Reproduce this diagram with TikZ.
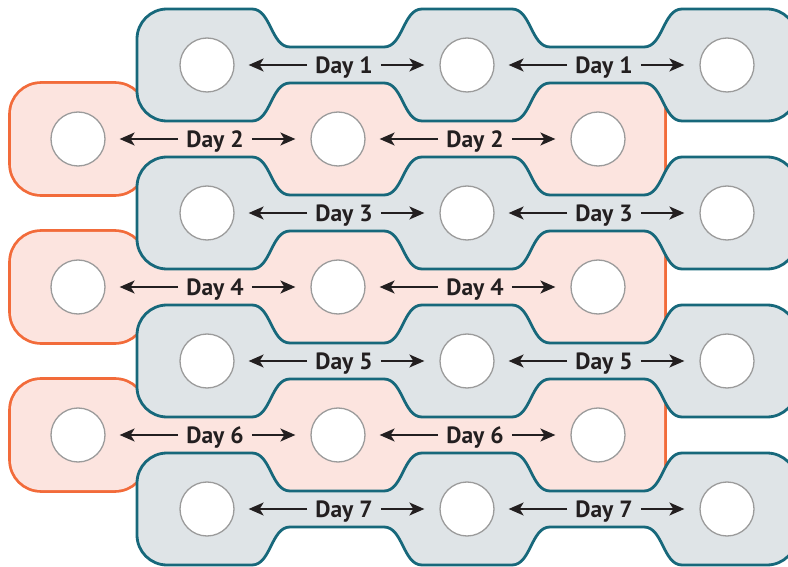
\documentclass[tikz,border=0pt]{standalone}
\usepackage{fontspec}
\setmainfont{PT Sans}
\usetikzlibrary{arrows.meta}
\definecolor{grayfill}{HTML}{DFE4E7}
\definecolor{tealline}{HTML}{17687B}
\definecolor{pinkfill}{HTML}{FCE4DF}
\definecolor{orangeline}{HTML}{F26B3A}
\definecolor{spotline}{HTML}{9B9B9B}
\definecolor{txt}{HTML}{231F20}

% smooth S step: from (#1,#2) by (#3,#4), horizontal at both ends
\newcommand\sstep[4]{.. controls ({#1+0.5*(#3)},{#2}) and ({#1+0.5*(#3)},{#2+(#4)}) .. ({#1+(#3)},{#2+(#4)})}
% gray three-lobed shape: #1 = centre x of left lobe, #2 = centre y
\newcommand\graypath[2]{({#1-70},{#2}) -- ({#1-70},{#2+26}) arc[start angle=180,end angle=90,radius=30]
 -- ({#1+45},{#2+56}) \sstep{#1+45}{#2+56}{38}{-38}
 -- ({#1+177},{#2+18}) \sstep{#1+177}{#2+18}{38}{38}
 -- ({#1+305},{#2+56}) \sstep{#1+305}{#2+56}{38}{-38}
 -- ({#1+437},{#2+18}) \sstep{#1+437}{#2+18}{38}{38}
 -- ({#1+560},{#2+56}) arc[start angle=90,end angle=0,radius=30]
 -- ({#1+590},{#2-26}) arc[start angle=0,end angle=-90,radius=30]
 -- ({#1+475},{#2-56}) \sstep{#1+475}{#2-56}{-38}{38}
 -- ({#1+343},{#2-18}) \sstep{#1+343}{#2-18}{-38}{-38}
 -- ({#1+215},{#2-56}) \sstep{#1+215}{#2-56}{-38}{38}
 -- ({#1+83},{#2-18}) \sstep{#1+83}{#2-18}{-38}{-38}
 -- ({#1-40},{#2-56}) arc[start angle=270,end angle=180,radius=30] -- cycle}
% pink left lobe and pink band (united by stroke-then-fill)
\newcommand\pinklobe[2]{[rounded corners=30pt] ({#1-67},{#2-55}) rectangle ({#1+67},{#2+55})}
\newcommand\pinkband[2]{({#1+64},{#2-56}) -- ({#1+568},{#2-56}) arc[start angle=-90,end angle=0,radius=18]
 -- ({#1+586},{#2+38}) arc[start angle=0,end angle=90,radius=18] -- ({#1+64},{#2+56}) -- cycle}

% one row of spots and labels: #1 name, #2 x of first spot, #3 y, #4 day
\newcommand\dayrow[4]{%
 \node[spot] (#1a) at (#2,#3) {};
 \node[spot] (#1b) at ({#2+260},#3) {};
 \node[spot] (#1c) at ({#2+520},#3) {};
 \node[daylabel] (#1ab) at ({#2+137},#3) {Day #4};
 \node[daylabel] (#1bc) at ({#2+397},#3) {Day #4};
 \draw[arr, shorten >=14pt] (#1ab.west) -- (#1a);
 \draw[arr, shorten >=15pt] (#1ab.east) -- (#1b);
 \draw[arr, shorten >=14pt] (#1bc.west) -- (#1b);
 \draw[arr, shorten >=15pt] (#1bc.east) -- (#1c);
}

\begin{document}
\begin{tikzpicture}[x=1pt,y=1pt,
  spot/.style={circle, draw=spotline, fill=white, line width=1.3pt, minimum size=54pt, inner sep=0pt},
  daylabel/.style={font=\bfseries\fontsize{23.5}{24}\selectfont, text=txt, inner xsep=8pt, inner ysep=0pt, text height=17pt, text depth=0pt},
  arr/.style={-{Stealth[length=15pt,width=13pt,inset=4pt]}, line width=1.6pt, draw=txt},
  grayshape/.style={fill=grayfill, draw=tealline, line width=2.8pt},
  pinkedge/.style={draw=orangeline, line width=5.6pt},
  pinkbody/.style={fill=pinkfill}]
\useasboundingbox (0,0) rectangle (788,566);
% pink rows
\foreach \yy in {427,279,131} {
  \draw[pinkedge] \pinklobe{78}{\yy};
  \draw[pinkedge] \pinkband{78}{\yy};
}
\foreach \yy in {427,279,131} {
  \fill[pinkbody] \pinklobe{78}{\yy};
  \fill[pinkbody] \pinkband{78}{\yy};
}
% gray rows
\foreach \yy in {501,353,205,57} {
  \path[grayshape] \graypath{207}{\yy};
}
% spots, labels and arrows
\dayrow{r1}{207}{501}{1}
\dayrow{r2}{78}{427}{2}
\dayrow{r3}{207}{353}{3}
\dayrow{r4}{78}{279}{4}
\dayrow{r5}{207}{205}{5}
\dayrow{r6}{78}{131}{6}
\dayrow{r7}{207}{57}{7}
\end{tikzpicture}
\end{document}
